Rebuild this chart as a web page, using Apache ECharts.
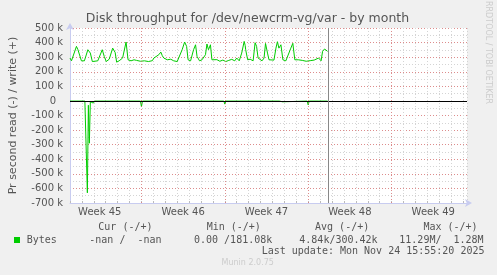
<!DOCTYPE html>
<html><head><meta charset="utf-8">
<script src="https://cdn.jsdelivr.net/npm/echarts@6/dist/echarts.min.js"></script>
<style>html,body{margin:0;padding:0;background:#f0f0f0}#c{width:497px;height:275px}</style>
</head><body><div id="c"></div>
<script>
const titleText = 'Disk throughput for /dev/newcrm-vg/var - by month';
const yAxisName = 'Pr second read (-) / write (+)';
const sideText = 'RRDTOOL / TOBI OETIKER';
const footerText = 'Munin 2.0.75';
const weekLabels = ['Week 45', 'Week 46', 'Week 47', 'Week 48', 'Week 49'];
const weekLabelHours = [60, 228, 396, 564, 732];
const weekBoundaryHours = [144, 312, 480, 648];
const nowHour = 521;
// write (+) in kB/s, sampled hours from the left edge of the month view
const writeHour = [0,3,7,13,16,19,23,26,29,36,41,45,49,56,65,69,73,79,86,91,94,99,106,113,117,123,129,134,138,142,146,150,154,158,162,166,169,179,183,186,189,196,203,209,216,219,226,231,235,238,243,249,253,256,261,266,273,276,279,283,286,290,296,302,308,314,320,326,332,336,341,346,351,353,354,358,363,369,373,376,379,383,387,391,394,398,401,405,411,415,418,421,425,429,435,439,445,449,453,456,460,464,468,472,476,480,484,488,492,496,501,506,509,513,516,519];
const writeK = [294,275,285,374,351,340,275,285,275,351,328,270,282,275,351,305,270,286,362,332,266,275,294,404,282,275,282,278,285,272,280,275,283,270,282,276,294,317,335,310,294,282,286,275,270,282,351,404,374,282,275,351,385,305,275,282,317,390,351,385,282,275,283,272,280,270,278,285,275,294,275,328,408,380,351,282,286,275,399,374,294,282,275,294,394,328,282,275,280,362,406,362,385,282,275,282,362,395,282,275,282,290,278,285,272,282,276,285,280,288,294,275,340,356,345,340];
// read (-) in kB/s
const readHour = [0,30,33,35,37,39,41,44,47,50,108,110,112,142,144,146,310,312,314,422,424,428,430,478,480,482,500,502,504,519];
const readK = [1,1,3,630,30,290,5,2,15,1,1,5,1,1,40,1,1,22,1,1,6,6,1,1,27,1,1,14,1,1];
const legendHeader = 'Cur (-/+)         Min (-/+)         Avg (-/+)         Max (-/+)';
const seriesName = 'Bytes';
const statValues = ['-nan /  -nan', '0.00 /181.08k', '4.84k/300.42k', '11.29M/  1.28M'];
const statX = [89.3, 194, 299.3, 399.3];
const lastUpdate = 'Last update: Mon Nov 24 15:55:20 2025';

const GREEN = '#00cc00';
const TXT = '#555555';
const SANS = 'DejaVu Sans';

const writeData = writeHour.map((h, i) => [h, writeK[i] * 1000]);
const readData = readHour.map((h, i) => [h, -readK[i] * 1000]);

const graphic = [
  {type: 'text', x: 247.5, y: 19, style: {text: titleText, fill: TXT, font: '12.5px "DejaVu Sans"', textAlign: 'center', textVerticalAlign: 'middle'}},
  {type: 'text', x: 488.5, y: 52.5, rotation: -Math.PI / 2, style: {text: sideText, fill: '#cccccc', font: '8px "DejaVu Sans"', textAlign: 'center', textVerticalAlign: 'middle'}},
  {type: 'text', x: 98.3, y: 227.3, style: {text: legendHeader, fill: TXT, font: '10px "DejaVu Sans Mono"', textVerticalAlign: 'middle'}},
  {type: 'rect', shape: {x: 14, y: 237, width: 6, height: 6}, style: {fill: GREEN}},
  {type: 'text', x: 26.7, y: 240, style: {text: seriesName, fill: TXT, font: '10px "DejaVu Sans Mono"', textVerticalAlign: 'middle'}},
  {type: 'text', x: 261.7, y: 251.7, style: {text: lastUpdate, fill: TXT, font: '10px "DejaVu Sans Mono"', textVerticalAlign: 'middle'}},
  {type: 'text', x: 247.7, y: 263.3, style: {text: footerText, fill: '#cccccc', font: '8px "DejaVu Sans"', textAlign: 'center', textVerticalAlign: 'middle'}}
];
statValues.forEach((s, i) => graphic.push({type: 'text', x: statX[i], y: 240, style: {text: s, fill: TXT, font: '10px "DejaVu Sans Mono"', textVerticalAlign: 'middle'}}));

const chart = echarts.init(document.getElementById('c'), null, {renderer: 'canvas'});
chart.setOption({
  backgroundColor: '#f0f0f0',
  animation: false,
  grid: {left: 67, top: 28, width: 400, height: 175, show: true, backgroundColor: '#ffffff', borderWidth: 0},
  xAxis: [{
    type: 'value', min: 0, max: 800, interval: 24,
    axisLine: {show: true, onZero: false, lineStyle: {color: '#c8ccf0', width: 1}, symbol: ['none', 'arrow'], symbolSize: [6, 7], symbolOffset: [0, 5]},
    axisTick: {show: true, inside: true, length: 2, lineStyle: {color: '#bbbbbb'}},
    axisLabel: {customValues: weekLabelHours, formatter: v => weekLabels[weekLabelHours.indexOf(v)] || '', color: TXT, fontSize: 10, fontFamily: SANS, margin: 4},
    splitLine: {show: true, lineStyle: {color: '#d4d4d4', type: [1, 2], width: 1}}
  }],
  yAxis: [{
    type: 'value', min: -700000, max: 500000, interval: 50000,
    axisLine: {show: false}, axisTick: {show: false}, axisLabel: {show: false},
    splitLine: {show: true, lineStyle: {color: '#d4d4d4', type: [1, 2], width: 1}}
  }, {
    type: 'value', min: -700000, max: 500000, interval: 100000, position: 'left',
    name: yAxisName, nameLocation: 'middle', nameGap: 51,
    nameTextStyle: {color: TXT, fontSize: 11, fontFamily: SANS},
    axisLine: {show: true, lineStyle: {color: '#c8ccf0', width: 1}, symbol: ['none', 'arrow'], symbolSize: [6, 7], symbolOffset: [0, 5]},
    axisTick: {show: false},
    axisLabel: {
      color: TXT, fontSize: 10, fontFamily: SANS, margin: 7,
      formatter: v => v === 0 ? '{z|0}' : (v / 1000) + ' k',
      rich: {z: {padding: [0, 7, 0, 0], color: TXT, fontSize: 10, fontFamily: SANS}}
    },
    splitLine: {show: true, lineStyle: {color: 'rgba(225,110,110,0.7)', type: [1, 2], width: 1}}
  }],
  series: [
    {
      type: 'line', name: 'weeks', data: [], z: 1, silent: true,
      markLine: {silent: true, symbol: ['none', 'none'], label: {show: false},
        lineStyle: {color: 'rgba(225,110,110,0.7)', type: [1, 2], width: 1},
        data: weekBoundaryHours.map(h => ({xAxis: h}))}
    },
    {
      type: 'line', name: 'read', data: readData, yAxisIndex: 1, showSymbol: false, symbol: 'none',
      lineStyle: {color: GREEN, width: 1}, z: 3
    },
    {
      type: 'line', name: 'write', data: writeData, yAxisIndex: 1, showSymbol: false, symbol: 'none',
      lineStyle: {color: GREEN, width: 1}, z: 3
    },
    {
      type: 'line', name: 'rules', data: [], yAxisIndex: 1, z: 5, silent: true,
      markLine: {silent: true, symbol: ['none', 'none'], label: {show: false},
        data: [
          {yAxis: 0, lineStyle: {color: '#000000', type: 'solid', width: 1.2}},
          {xAxis: nowHour, lineStyle: {color: '#888888', type: 'solid', width: 1}}
        ]}
    }
  ],
  graphic: graphic
});
</script>
</body></html>
